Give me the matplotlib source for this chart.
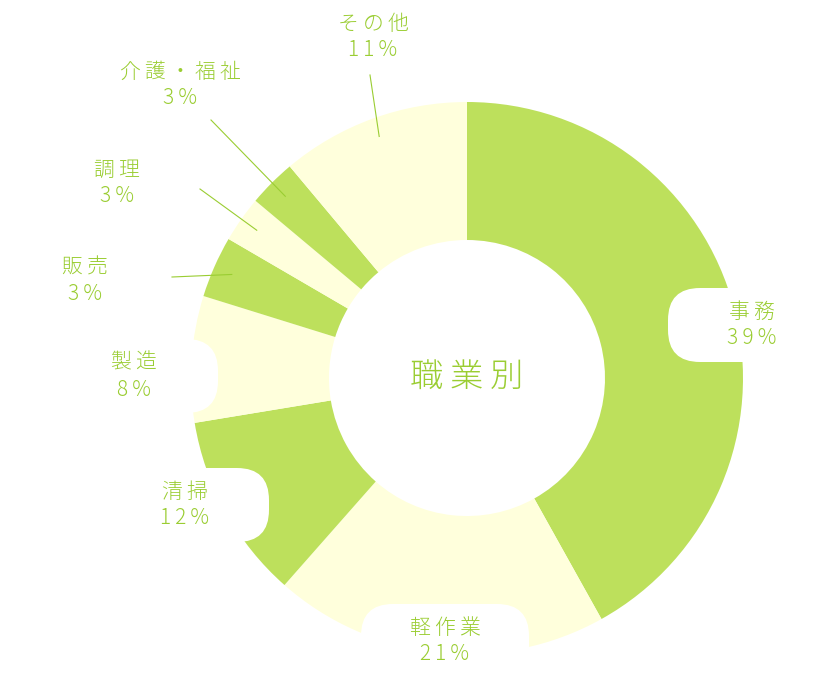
import matplotlib
matplotlib.use("Agg")
import matplotlib.pyplot as plt
from matplotlib.patches import FancyBboxPatch
import numpy as np

plt.rcParams['font.family'] = ['Noto Sans CJK JP', 'DejaVu Sans']

categories = ["事務", "軽作業", "清掃", "製造", "販売", "調理", "介護・福祉", "その他"]
# slice sizes as drawn in the picture (percent of the ring)
values = [41.9, 19.6, 10.9, 7.4, 3.6, 2.7, 2.8, 11.1]
pct_labels = ["39%", "21%", "12%", "8%", "3%", "3%", "3%", "11%"]
title = "職業別"

GREEN = "#bde05c"
YELLOW = "#ffffdc"
TEXT = "#9acd32"
colors = [GREEN if i % 2 == 0 else YELLOW for i in range(len(values))]

W, H = 840, 677
fig = plt.figure(figsize=(W / 100, H / 100), dpi=100)
ax = fig.add_axes([0, 0, 1, 1])

def P(x, y):
    return x, H - y

def spaced(s):
    return "\u2009".join(s)

cx, cy = P(467, 378)
R = 276
ax.pie(values, colors=colors, startangle=90, counterclock=False,
       center=(cx, cy), radius=R, wedgeprops=dict(width=R - 138, linewidth=0),
       frame=True)
ax.set_xlim(0, W)
ax.set_ylim(0, H)
ax.set_aspect('equal')
ax.axis('off')

label_pos = {
    "事務": (752, 325), "軽作業": (445, 641), "清掃": (185, 505), "製造": (134, 376),
    "販売": (85, 281), "調理": (117, 183), "介護・福祉": (180, 85), "その他": (373, 37),
}
leader_start = {
    "販売": (172, 277), "調理": (200, 189), "介護・福祉": (211, 120), "その他": (370, 75),
}

total = sum(values)
cum = np.cumsum([0] + values)
for i, cat in enumerate(categories):
    lx, ly = P(*label_pos[cat])
    box = FancyBboxPatch((lx - 84, ly - 37), 168, 74,
                         boxstyle="round,pad=0,rounding_size=32",
                         fc="white", ec="none", zorder=3)
    ax.add_patch(box)
    ax.text(lx, ly + 13.5, spaced(cat), ha='center', va='center', fontsize=15,
            color=TEXT, zorder=5, fontweight='light')
    ax.text(lx, ly - 13.5, spaced(pct_labels[i]), ha='center', va='center', fontsize=15,
            color=TEXT, zorder=5, fontweight='light')
    if cat in leader_start:
        mid = (cum[i] + cum[i + 1]) / 2 / total
        ang = np.pi / 2 - 2 * np.pi * mid
        ex, ey = cx + 257 * np.cos(ang), cy + 257 * np.sin(ang)
        sx, sy = P(*leader_start[cat])
        ax.plot([sx, ex], [sy, ey], color=TEXT, lw=0.8, zorder=4)

ax.text(cx, cy, spaced(title), ha='center', va='center', fontsize=24, color=TEXT,
        zorder=5, fontweight='light')

fig.savefig("out.png", dpi=100, facecolor="white")
